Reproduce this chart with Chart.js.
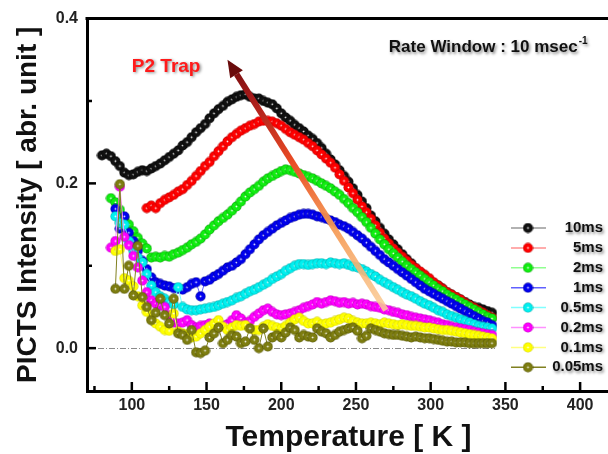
<!DOCTYPE html>
<html>
<head>
<meta charset="utf-8">
<script src="https://cdn.jsdelivr.net/npm/chart.js@4.4.1/dist/chart.umd.min.js"></script>
<style>
  html, body { margin: 0; padding: 0; background: #fff; overflow: hidden; }
  #wrap { width: 616px; height: 454px; }
</style>
</head>
<body>
<div id="wrap"><canvas id="picts" width="616" height="454"></canvas></div>
<script>
// temperature grid [K]
const temps = [80,83,86,89,92,95,98,101,104,107,110,113,116,119,122,125,128,131,134,137,
  140,143,146,149,152,155,158,161,164,167,170,173,176,179,182,185,188,191,194,197,
  200,203,206,209,212,215,218,221,224,227,230,233,236,239,242,245,248,251,254,257,
  260,263,266,269,272,275,278,281,284,287,290,293,296,299,302,305,308,311,314,317,
  320,323,326,329,332,335,338,341];

// each series ends at the last temperature (341 K)
const v10ms = [.234,.236,.233,.227,.221,.213,.210,.211,.214,.216,
  .215,.218,.221,.224,.228,.232,.236,.240,.246,.250,
  .256,.262,.267,.272,.279,.285,.290,.294,.299,.302,
  .305,.307,.308,.305,.303,.303,.300,.298,.296,.291,
  .285,.280,.276,.271,.267,.263,.258,.254,.249,.243,
  .236,.229,.223,.216,.209,.202,.194,.186,.178,.170,
  .161,.154,.146,.139,.132,.126,.120,.114,.108,.103,
  .097,.092,.088,.083,.079,.076,.072,.068,.065,.062,
  .059,.056,.053,.050,.049,.047,.045,.043];
const v5ms = [.170,.173,.170,.176,.180,.183,.186,.190,.193,.198,
  .203,.209,.215,.221,.226,.233,.239,.245,.251,.256,
  .260,.264,.267,.270,.272,.275,.276,.276,.275,.273,
  .270,.266,.262,.259,.256,.253,.249,.245,.240,.235,
  .230,.225,.219,.211,.203,.195,.188,.180,.172,.165,
  .157,.149,.140,.133,.127,.121,.116,.111,.106,.101,
  .097,.093,.089,.085,.080,.076,.072,.068,.065,.062,
  .059,.055,.052,.049,.046,.043,.040,.037];
const v2ms = [.182,.177,.168,.158,.150,.142,.134,.127,.121,.110,
  .111,.110,.112,.111,.114,.116,.119,.122,.126,.129,
  .133,.138,.144,.149,.154,.158,.162,.167,.172,.178,
  .184,.189,.193,.197,.202,.206,.209,.212,.215,.217,
  .216,.214,.212,.210,.208,.206,.203,.200,.197,.194,
  .190,.186,.181,.176,.170,.165,.159,.153,.146,.139,
  .132,.126,.120,.115,.110,.105,.100,.096,.092,.088,
  .084,.080,.076,.072,.069,.065,.062,.059,.056,.053,
  .050,.047,.044,.041,.038,.036];
const v1ms = [.169,.145,.160,.140,.130,.118,.106,.096,.086,.080,
  .078,.076,.075,.073,.072,.071,.074,.078,.080,.063,
  .081,.083,.087,.090,.094,.098,.100,.104,.108,.114,
  .120,.126,.132,.137,.141,.145,.149,.152,.155,.158,
  .160,.162,.163,.163,.162,.160,.159,.157,.155,.153,
  .150,.148,.145,.141,.137,.133,.128,.123,.118,.113,
  .108,.104,.100,.096,.092,.088,.084,.080,.076,.072,
  .069,.066,.063,.060,.057,.054,.051,.048,.045,.042,
  .039,.036,.033,.031,.028];
const v05ms = [.160,.152,.150,.130,.118,.110,.104,.090,.076,.068,
  .063,.060,.056,.053,.074,.050,.047,.046,.046,.047,
  .048,.049,.050,.052,.054,.056,.058,.061,.063,.066,
  .069,.071,.074,.077,.080,.084,.087,.090,.094,.097,
  .100,.102,.102,.101,.102,.103,.103,.102,.104,.103,
  .102,.103,.101,.099,.098,.096,.093,.090,.087,.083,
  .080,.077,.074,.071,.068,.065,.063,.060,.057,.054,
  .052,.049,.046,.044,.041,.039,.037,.035,.033,.031,
  .029,.027,.026,.025,.024];
const v02ms = [.122,.130,.196,.135,.125,.112,.098,.082,.068,.058,
  .054,.052,.050,.040,.031,.030,.031,.034,.028,.025,
  .027,.028,.030,.026,.025,.027,.029,.034,.040,.036,
  .031,.033,.038,.042,.046,.048,.044,.041,.040,.041,
  .042,.044,.046,.049,.051,.053,.056,.054,.056,.058,
  .057,.055,.056,.054,.055,.053,.054,.053,.051,.050,
  .049,.047,.046,.044,.043,.041,.040,.038,.037,.036,
  .035,.034,.032,.031,.029,.028,.026,.025,.024,.023,
  .022,.020,.019,.018,.017,.016];
const v01ms = [.118,.120,.085,.082,.075,.063,.052,.044,.035,.030,
  .026,.022,.021,.042,.020,.018,.016,.013,.014,.018,
  .022,.026,.030,.034,.026,.022,.025,.028,.027,.028,
  .024,.022,.022,.026,.029,.027,.025,.024,.027,.031,
  .035,.037,.033,.030,.030,.032,.029,.030,.031,.033,
  .035,.037,.036,.033,.031,.030,.030,.031,.030,.029,
  .031,.030,.029,.028,.029,.028,.027,.027,.026,.025,
  .025,.024,.023,.022,.022,.021,.020,.019,.018,.017,
  .016,.015,.014,.013,.012];
const v005ms = [.072,.199,.072,.100,.064,.124,.062,.050,.034,.043,
  .060,.040,.030,.060,.018,.016,.010,.022,-.005,-.006,
  -.003,.013,.018,.025,.006,.010,.016,.014,.006,.008,
  .024,.010,.000,.024,.002,.013,.016,.013,.019,.025,
  .022,.013,.016,.014,.013,.024,.020,.018,.013,.016,
  .020,.022,.024,.025,.021,.012,.015,.024,.022,.020,
  .018,.017,.016,.016,.015,.014,.013,.014,.013,.012,
  .012,.011,.010,.009,.008,.008,.007,.007,.007,.006,
  .006,.006,.006,.006,.006];

const seriesLabels = ['10ms', '5ms', '2ms', '1ms', '0.5ms', '0.2ms', '0.1ms', '0.05ms'];
const seriesValues = [v10ms, v5ms, v2ms, v1ms, v05ms, v02ms, v01ms, v005ms];
const dotColors  = ['#111111', '#ff0000', '#11ee11', '#0000ee', '#00f0f0', '#ff00ff', '#ffff00', '#7d7d10'];
const dotEdges   = ['#000000', '#b00000', '#089008', '#00008a', '#00a0a0', '#b000b0', '#c8c800', '#4a4a00'];
const lineColors = ['#999999', '#ff9090', '#90ff90', '#6060ff', '#80ffff', '#ff90ff', '#ffff80', '#808020'];

const xTicks = [100, 150, 200, 250, 300, 350, 400];
const xMinorTicks = [75, 125, 175, 225, 275, 325, 375];
const yTicks = [0.0, 0.2, 0.4];
const yMinorTicks = [0.1, 0.3];

// annotation anchors in data units
const arrowTail = { x: 270, y: 0.046 };
const arrowTip = { x: 164, y: 0.350 };
const trapLabel = { x: 100, y: 0.342, text: 'P2 Trap' };
const rateLabel = { x: 272, y: 0.365, text: 'Rate Window : 10 msec', sup: '-1' };

Chart.defaults.font.family = '"Liberation Sans", Arial, sans-serif';

function sphere(color, edge) {
  const c = document.createElement('canvas');
  c.width = c.height = 11;
  const g = c.getContext('2d');
  const grad = g.createRadialGradient(5.5, 5.5, 0, 5.5, 5.5, 5.2);
  grad.addColorStop(0, 'rgba(255,255,255,0.95)');
  grad.addColorStop(0.28, color);
  grad.addColorStop(0.75, color);
  grad.addColorStop(1, edge);
  g.fillStyle = grad;
  g.beginPath();
  g.arc(5.5, 5.5, 5, 0, Math.PI * 2);
  g.fill();
  return c;
}
const sprites = dotColors.map((c, i) => sphere(c, dotEdges[i]));

const datasets = seriesLabels.map((label, i) => {
  const vals = seriesValues[i];
  const offset = temps.length - vals.length;
  return {
    label: label,
    data: vals.map((v, j) => ({ x: temps[offset + j], y: v })),
    borderColor: lineColors[i],
    backgroundColor: dotColors[i],
    borderWidth: 1,
    pointStyle: sprites[i],
    pointRadius: 5,
    pointHoverRadius: 5,
    tension: 0,
    order: seriesLabels.length - i
  };
});

function shadowOn(ctx) {
  ctx.shadowColor = 'rgba(0,0,0,0.45)';
  ctx.shadowBlur = 3;
  ctx.shadowOffsetX = 1.5;
  ctx.shadowOffsetY = 1.5;
}

const decorations = {
  id: 'decorations',
  beforeDatasetsDraw(chart) {
    const { ctx, chartArea, scales: { x, y } } = chart;
    // zero reference line (dash-dot)
    ctx.save();
    ctx.strokeStyle = '#8a8a8a';
    ctx.lineWidth = 1;
    ctx.setLineDash([6, 2, 1, 2]);
    ctx.beginPath();
    const y0 = Math.round(y.getPixelForValue(0)) + 0.5;
    ctx.moveTo(chartArea.left, y0);
    ctx.lineTo(x.getPixelForValue(343), y0);
    ctx.stroke();
    ctx.restore();
  },
  afterDatasetsDraw(chart) {
    const { ctx, chartArea, scales: { x, y } } = chart;
    ctx.save();
    // top frame line
    ctx.strokeStyle = '#000';
    ctx.lineWidth = 3;
    ctx.beginPath();
    ctx.moveTo(chartArea.left - 1.5, chartArea.top);
    ctx.lineTo(chart.width, chartArea.top);
    ctx.stroke();

    // inward ticks
    ctx.lineWidth = 2.5;
    const b = chartArea.bottom, l = chartArea.left;
    xTicks.forEach(t => { const px = x.getPixelForValue(t); ctx.beginPath(); ctx.moveTo(px, b); ctx.lineTo(px, b - 9); ctx.stroke(); });
    xMinorTicks.forEach(t => { const px = x.getPixelForValue(t); ctx.beginPath(); ctx.moveTo(px, b); ctx.lineTo(px, b - 5); ctx.stroke(); });
    yTicks.forEach(t => { const py = y.getPixelForValue(t); ctx.beginPath(); ctx.moveTo(l, py); ctx.lineTo(l + 9, py); ctx.stroke(); });
    yMinorTicks.forEach(t => { const py = y.getPixelForValue(t); ctx.beginPath(); ctx.moveTo(l, py); ctx.lineTo(l + 5, py); ctx.stroke(); });

    // trend arrow
    const x1 = x.getPixelForValue(arrowTail.x), y1 = y.getPixelForValue(arrowTail.y);
    const x2 = x.getPixelForValue(arrowTip.x), y2 = y.getPixelForValue(arrowTip.y);
    const ang = Math.atan2(y2 - y1, x2 - x1);
    const headLen = 17, headHalf = 7.5;
    const bx = x2 - headLen * Math.cos(ang), by = y2 - headLen * Math.sin(ang);
    const grad = ctx.createLinearGradient(x1, y1, x2, y2);
    grad.addColorStop(0, 'rgba(250,205,150,0.85)');
    grad.addColorStop(0.35, 'rgba(245,150,80,0.95)');
    grad.addColorStop(0.6, '#e84a25');
    grad.addColorStop(0.85, '#a61a1a');
    grad.addColorStop(1, '#6a0c0c');
    ctx.strokeStyle = grad;
    ctx.lineWidth = 6;
    ctx.lineCap = 'butt';
    ctx.beginPath();
    ctx.moveTo(x1, y1);
    ctx.lineTo(bx, by);
    ctx.stroke();
    ctx.fillStyle = '#6a0c0c';
    ctx.beginPath();
    ctx.moveTo(x2, y2);
    ctx.lineTo(bx + headHalf * Math.sin(ang), by - headHalf * Math.cos(ang));
    ctx.lineTo(bx - headHalf * Math.sin(ang), by + headHalf * Math.cos(ang));
    ctx.closePath();
    ctx.fill();

    // annotations
    shadowOn(ctx);
    ctx.textBaseline = 'middle';
    ctx.textAlign = 'left';
    ctx.fillStyle = '#ff1a1a';
    ctx.font = 'bold 19px "Liberation Sans", Arial, sans-serif';
    ctx.fillText(trapLabel.text, x.getPixelForValue(trapLabel.x), y.getPixelForValue(trapLabel.y));

    ctx.fillStyle = '#111';
    ctx.font = 'bold 17px "Liberation Sans", Arial, sans-serif';
    const rx = x.getPixelForValue(rateLabel.x), ry = y.getPixelForValue(rateLabel.y);
    ctx.fillText(rateLabel.text, rx, ry);
    const w = ctx.measureText(rateLabel.text).width;
    ctx.font = 'bold 10px "Liberation Sans", Arial, sans-serif';
    ctx.fillText(rateLabel.sup, rx + w + 1, ry - 6);

    // legend
    chart.data.datasets.forEach((ds, i) => {
      const ly = 228 + i * 19.9;
      ctx.shadowColor = 'rgba(0,0,0,0)';
      ctx.strokeStyle = ds.borderColor;
      ctx.lineWidth = 1.5;
      ctx.beginPath();
      ctx.moveTo(511, ly);
      ctx.lineTo(546, ly);
      ctx.stroke();
      ctx.drawImage(sprites[i], 528 - 5.5, ly - 5.5);
      shadowOn(ctx);
      ctx.fillStyle = '#111';
      ctx.textAlign = 'right';
      ctx.font = 'bold 15px "Liberation Sans", Arial, sans-serif';
      ctx.fillText(ds.label, 603, ly);
    });
    ctx.restore();
  }
};

new Chart(document.getElementById('picts'), {
  type: 'line',
  data: { datasets: datasets },
  options: {
    responsive: false,
    animation: false,
    layout: { padding: { top: 17, right: 4, left: 0, bottom: 0 } },
    plugins: { legend: { display: false }, tooltip: { enabled: false } },
    scales: {
      x: {
        type: 'linear',
        min: 70,
        max: 420,
        afterFit: s => { s.height = 63; },
        afterBuildTicks: s => { s.ticks = xTicks.map(v => ({ value: v })); },
        grid: { display: false, drawTicks: false },
        border: { display: true, color: '#000', width: 3 },
        ticks: { color: '#222', padding: 5, font: { size: 16, weight: 'bold' }, maxRotation: 0, callback: v => String(v) },
        title: { display: true, text: 'Temperature [ K ]', color: '#111', font: { size: 30, weight: 'bold', lineHeight: 1 }, padding: { top: 0, bottom: 1 } }
      },
      y: {
        min: -0.052,
        max: 0.4,
        afterFit: s => { s.width = 87; },
        afterBuildTicks: s => { s.ticks = yTicks.map(v => ({ value: v })); },
        grid: { display: false, drawTicks: false },
        border: { display: true, color: '#000', width: 3 },
        ticks: { color: '#222', padding: 9, font: { size: 16, weight: 'bold' }, callback: v => Number(v).toFixed(1) },
        title: { display: true, text: 'PICTS Intensity [ abr. unit ]', color: '#111', font: { size: 28, weight: 'bold', lineHeight: 1 }, padding: { top: 14, bottom: 0 } }
      }
    }
  },
  plugins: [decorations]
});
</script>
</body>
</html>
